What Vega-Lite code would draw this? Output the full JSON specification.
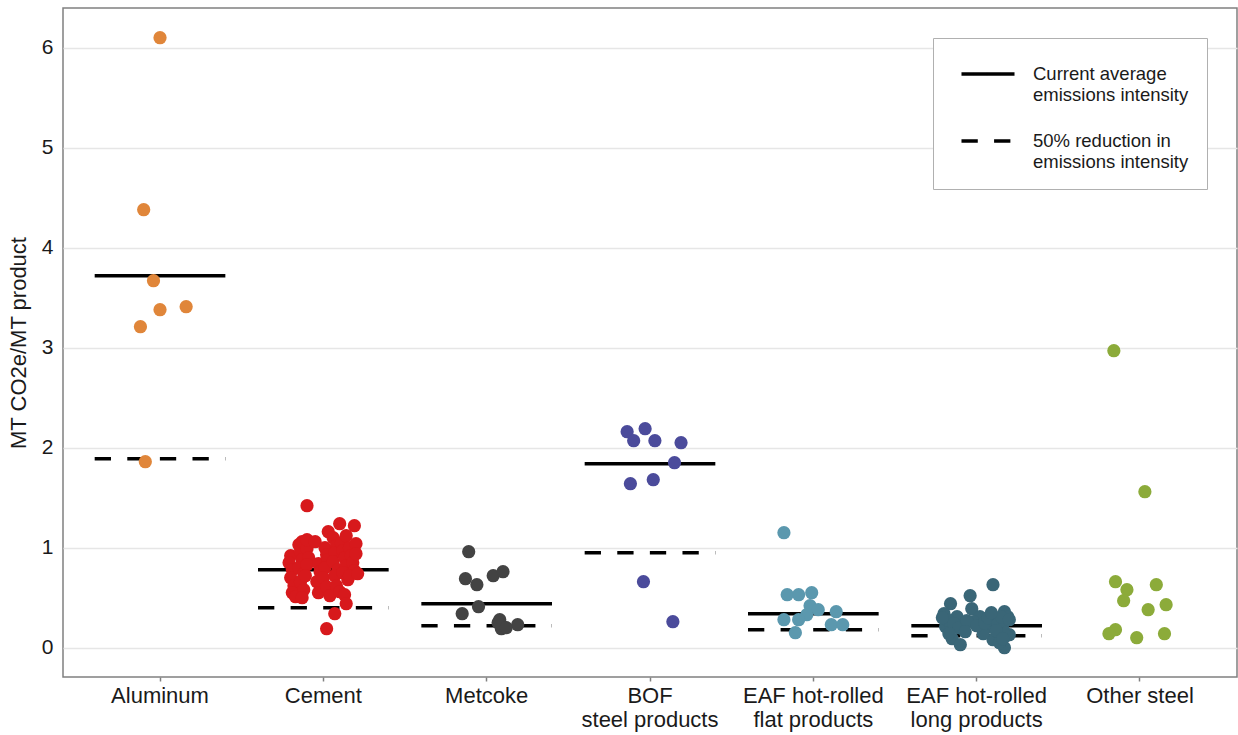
{
  "$schema": "https://vega.github.io/schema/vega-lite/v6.json",
  "width": 1174,
  "height": 669,
  "autosize": {"type": "none"},
  "padding": {"left": 63, "top": 8, "right": 1, "bottom": 58},
  "background": "white",
  "config": {
    "font": "Liberation Sans",
    "view": {"stroke": "#808080", "strokeWidth": 1.5},
    "axis": {"domain": false, "labelColor": "#1a1a1a", "titleColor": "#1a1a1a", "labelFontWeight": "normal", "titleFontWeight": "normal"}
  },
  "datasets": {
    "points": [
      {"sector": "Aluminum", "jitter": 0.0, "value": 6.10},
      {"sector": "Aluminum", "jitter": -0.10, "value": 4.38},
      {"sector": "Aluminum", "jitter": -0.04, "value": 3.67},
      {"sector": "Aluminum", "jitter": 0.0, "value": 3.38},
      {"sector": "Aluminum", "jitter": 0.16, "value": 3.41},
      {"sector": "Aluminum", "jitter": -0.12, "value": 3.21},
      {"sector": "Aluminum", "jitter": -0.09, "value": 1.86},
      {"sector": "Cement", "jitter": -0.20, "value": 0.92},
      {"sector": "Cement", "jitter": -0.21, "value": 0.85},
      {"sector": "Cement", "jitter": -0.19, "value": 0.78},
      {"sector": "Cement", "jitter": -0.20, "value": 0.70},
      {"sector": "Cement", "jitter": -0.18, "value": 0.62},
      {"sector": "Cement", "jitter": -0.19, "value": 0.55},
      {"sector": "Cement", "jitter": -0.17, "value": 0.51},
      {"sector": "Cement", "jitter": -0.15, "value": 1.03},
      {"sector": "Cement", "jitter": -0.14, "value": 0.96},
      {"sector": "Cement", "jitter": -0.13, "value": 0.88},
      {"sector": "Cement", "jitter": -0.15, "value": 0.80},
      {"sector": "Cement", "jitter": -0.12, "value": 0.74},
      {"sector": "Cement", "jitter": -0.14, "value": 0.66},
      {"sector": "Cement", "jitter": -0.12, "value": 0.58},
      {"sector": "Cement", "jitter": -0.13, "value": 1.06},
      {"sector": "Cement", "jitter": -0.10, "value": 0.99},
      {"sector": "Cement", "jitter": -0.09, "value": 0.90},
      {"sector": "Cement", "jitter": -0.10, "value": 0.83},
      {"sector": "Cement", "jitter": -0.11, "value": 0.72},
      {"sector": "Cement", "jitter": -0.13, "value": 0.50},
      {"sector": "Cement", "jitter": -0.10, "value": 1.08},
      {"sector": "Cement", "jitter": -0.10, "value": 1.42},
      {"sector": "Cement", "jitter": -0.05, "value": 1.06},
      {"sector": "Cement", "jitter": -0.03, "value": 0.84},
      {"sector": "Cement", "jitter": -0.02, "value": 0.76},
      {"sector": "Cement", "jitter": -0.04, "value": 0.66},
      {"sector": "Cement", "jitter": -0.03, "value": 0.55},
      {"sector": "Cement", "jitter": 0.01, "value": 1.00},
      {"sector": "Cement", "jitter": 0.02, "value": 0.93},
      {"sector": "Cement", "jitter": 0.03, "value": 0.88},
      {"sector": "Cement", "jitter": 0.01, "value": 0.80},
      {"sector": "Cement", "jitter": 0.00, "value": 0.70},
      {"sector": "Cement", "jitter": 0.02, "value": 0.61},
      {"sector": "Cement", "jitter": 0.04, "value": 0.52},
      {"sector": "Cement", "jitter": 0.03, "value": 1.16},
      {"sector": "Cement", "jitter": 0.06, "value": 1.10},
      {"sector": "Cement", "jitter": 0.08, "value": 1.02},
      {"sector": "Cement", "jitter": 0.07, "value": 0.95},
      {"sector": "Cement", "jitter": 0.06, "value": 0.86},
      {"sector": "Cement", "jitter": 0.09, "value": 0.78},
      {"sector": "Cement", "jitter": 0.07, "value": 0.72},
      {"sector": "Cement", "jitter": 0.08, "value": 0.62},
      {"sector": "Cement", "jitter": 0.10, "value": 0.56},
      {"sector": "Cement", "jitter": 0.10, "value": 1.24},
      {"sector": "Cement", "jitter": 0.11, "value": 1.05},
      {"sector": "Cement", "jitter": 0.12, "value": 0.97},
      {"sector": "Cement", "jitter": 0.13, "value": 0.90},
      {"sector": "Cement", "jitter": 0.14, "value": 0.82},
      {"sector": "Cement", "jitter": 0.12, "value": 0.75},
      {"sector": "Cement", "jitter": 0.15, "value": 0.68},
      {"sector": "Cement", "jitter": 0.14, "value": 1.12},
      {"sector": "Cement", "jitter": 0.16, "value": 1.00},
      {"sector": "Cement", "jitter": 0.17, "value": 0.92},
      {"sector": "Cement", "jitter": 0.18, "value": 0.85},
      {"sector": "Cement", "jitter": 0.19, "value": 0.77},
      {"sector": "Cement", "jitter": 0.16, "value": 0.72},
      {"sector": "Cement", "jitter": 0.20, "value": 1.04},
      {"sector": "Cement", "jitter": 0.21, "value": 0.74},
      {"sector": "Cement", "jitter": 0.19, "value": 1.22},
      {"sector": "Cement", "jitter": 0.20, "value": 0.94},
      {"sector": "Cement", "jitter": 0.13, "value": 0.53},
      {"sector": "Cement", "jitter": 0.14, "value": 0.44},
      {"sector": "Cement", "jitter": 0.07, "value": 0.34},
      {"sector": "Cement", "jitter": 0.02, "value": 0.19},
      {"sector": "Metcoke", "jitter": -0.11, "value": 0.96},
      {"sector": "Metcoke", "jitter": -0.13, "value": 0.69},
      {"sector": "Metcoke", "jitter": -0.06, "value": 0.63},
      {"sector": "Metcoke", "jitter": 0.04, "value": 0.72},
      {"sector": "Metcoke", "jitter": 0.10, "value": 0.76},
      {"sector": "Metcoke", "jitter": -0.05, "value": 0.41},
      {"sector": "Metcoke", "jitter": -0.15, "value": 0.34},
      {"sector": "Metcoke", "jitter": 0.08, "value": 0.28},
      {"sector": "Metcoke", "jitter": 0.09, "value": 0.22},
      {"sector": "Metcoke", "jitter": 0.09, "value": 0.19},
      {"sector": "Metcoke", "jitter": 0.19, "value": 0.23},
      {"sector": "Metcoke", "jitter": 0.07, "value": 0.25},
      {"sector": "Metcoke", "jitter": 0.12, "value": 0.20},
      {"sector": "BOF steel products", "jitter": -0.14, "value": 2.16},
      {"sector": "BOF steel products", "jitter": -0.03, "value": 2.19},
      {"sector": "BOF steel products", "jitter": -0.10, "value": 2.07},
      {"sector": "BOF steel products", "jitter": 0.03, "value": 2.07},
      {"sector": "BOF steel products", "jitter": 0.19, "value": 2.05},
      {"sector": "BOF steel products", "jitter": 0.15, "value": 1.85},
      {"sector": "BOF steel products", "jitter": -0.12, "value": 1.64},
      {"sector": "BOF steel products", "jitter": 0.02, "value": 1.68},
      {"sector": "BOF steel products", "jitter": -0.04, "value": 0.66},
      {"sector": "BOF steel products", "jitter": 0.14, "value": 0.26},
      {"sector": "EAF hot-rolled flat products", "jitter": -0.18, "value": 1.15},
      {"sector": "EAF hot-rolled flat products", "jitter": -0.16, "value": 0.53},
      {"sector": "EAF hot-rolled flat products", "jitter": -0.09, "value": 0.53},
      {"sector": "EAF hot-rolled flat products", "jitter": -0.01, "value": 0.55},
      {"sector": "EAF hot-rolled flat products", "jitter": -0.02, "value": 0.42},
      {"sector": "EAF hot-rolled flat products", "jitter": 0.03, "value": 0.38},
      {"sector": "EAF hot-rolled flat products", "jitter": -0.04, "value": 0.33},
      {"sector": "EAF hot-rolled flat products", "jitter": -0.09, "value": 0.28},
      {"sector": "EAF hot-rolled flat products", "jitter": -0.18, "value": 0.28},
      {"sector": "EAF hot-rolled flat products", "jitter": 0.14, "value": 0.36},
      {"sector": "EAF hot-rolled flat products", "jitter": 0.11, "value": 0.23},
      {"sector": "EAF hot-rolled flat products", "jitter": 0.18, "value": 0.23},
      {"sector": "EAF hot-rolled flat products", "jitter": -0.11, "value": 0.15},
      {"sector": "EAF hot-rolled long products", "jitter": 0.10, "value": 0.63},
      {"sector": "EAF hot-rolled long products", "jitter": -0.04, "value": 0.52},
      {"sector": "EAF hot-rolled long products", "jitter": -0.16, "value": 0.44},
      {"sector": "EAF hot-rolled long products", "jitter": -0.03, "value": 0.39},
      {"sector": "EAF hot-rolled long products", "jitter": 0.17, "value": 0.36},
      {"sector": "EAF hot-rolled long products", "jitter": -0.20, "value": 0.34},
      {"sector": "EAF hot-rolled long products", "jitter": -0.12, "value": 0.31},
      {"sector": "EAF hot-rolled long products", "jitter": 0.02, "value": 0.31},
      {"sector": "EAF hot-rolled long products", "jitter": 0.11, "value": 0.29},
      {"sector": "EAF hot-rolled long products", "jitter": 0.19, "value": 0.31},
      {"sector": "EAF hot-rolled long products", "jitter": -0.19, "value": 0.21},
      {"sector": "EAF hot-rolled long products", "jitter": -0.08, "value": 0.23},
      {"sector": "EAF hot-rolled long products", "jitter": 0.08, "value": 0.21},
      {"sector": "EAF hot-rolled long products", "jitter": 0.16, "value": 0.19},
      {"sector": "EAF hot-rolled long products", "jitter": -0.15, "value": 0.09},
      {"sector": "EAF hot-rolled long products", "jitter": -0.10, "value": 0.03},
      {"sector": "EAF hot-rolled long products", "jitter": 0.10, "value": 0.08},
      {"sector": "EAF hot-rolled long products", "jitter": 0.17, "value": 0.00},
      {"sector": "EAF hot-rolled long products", "jitter": 0.20, "value": 0.13},
      {"sector": "EAF hot-rolled long products", "jitter": -0.02, "value": 0.26},
      {"sector": "EAF hot-rolled long products", "jitter": 0.04, "value": 0.14},
      {"sector": "EAF hot-rolled long products", "jitter": -0.18, "value": 0.28},
      {"sector": "EAF hot-rolled long products", "jitter": -0.14, "value": 0.24},
      {"sector": "EAF hot-rolled long products", "jitter": -0.11, "value": 0.20},
      {"sector": "EAF hot-rolled long products", "jitter": -0.06, "value": 0.27},
      {"sector": "EAF hot-rolled long products", "jitter": 0.00, "value": 0.22},
      {"sector": "EAF hot-rolled long products", "jitter": 0.05, "value": 0.25},
      {"sector": "EAF hot-rolled long products", "jitter": 0.07, "value": 0.30},
      {"sector": "EAF hot-rolled long products", "jitter": 0.13, "value": 0.24},
      {"sector": "EAF hot-rolled long products", "jitter": 0.15, "value": 0.31},
      {"sector": "EAF hot-rolled long products", "jitter": 0.18, "value": 0.12},
      {"sector": "EAF hot-rolled long products", "jitter": 0.14, "value": 0.05},
      {"sector": "EAF hot-rolled long products", "jitter": 0.12, "value": 0.17},
      {"sector": "EAF hot-rolled long products", "jitter": -0.17, "value": 0.14},
      {"sector": "EAF hot-rolled long products", "jitter": -0.07, "value": 0.16},
      {"sector": "EAF hot-rolled long products", "jitter": 0.09, "value": 0.35},
      {"sector": "EAF hot-rolled long products", "jitter": -0.21, "value": 0.30},
      {"sector": "EAF hot-rolled long products", "jitter": 0.20, "value": 0.28},
      {"sector": "EAF hot-rolled long products", "jitter": 0.16, "value": 0.09},
      {"sector": "Other steel", "jitter": -0.16, "value": 2.97},
      {"sector": "Other steel", "jitter": 0.03, "value": 1.56},
      {"sector": "Other steel", "jitter": -0.15, "value": 0.66},
      {"sector": "Other steel", "jitter": -0.08, "value": 0.58},
      {"sector": "Other steel", "jitter": -0.10, "value": 0.47},
      {"sector": "Other steel", "jitter": 0.10, "value": 0.63},
      {"sector": "Other steel", "jitter": 0.16, "value": 0.43},
      {"sector": "Other steel", "jitter": 0.05, "value": 0.38},
      {"sector": "Other steel", "jitter": -0.15, "value": 0.18},
      {"sector": "Other steel", "jitter": -0.19, "value": 0.14},
      {"sector": "Other steel", "jitter": -0.02, "value": 0.10},
      {"sector": "Other steel", "jitter": 0.15, "value": 0.14}
    ],
    "lines": [
      {"sector": "Aluminum", "measure": "Current average emissions intensity", "value": 3.72},
      {"sector": "Aluminum", "measure": "50% reduction in emissions intensity", "value": 1.89},
      {"sector": "Cement", "measure": "Current average emissions intensity", "value": 0.78},
      {"sector": "Cement", "measure": "50% reduction in emissions intensity", "value": 0.40},
      {"sector": "Metcoke", "measure": "Current average emissions intensity", "value": 0.44},
      {"sector": "Metcoke", "measure": "50% reduction in emissions intensity", "value": 0.22},
      {"sector": "BOF steel products", "measure": "Current average emissions intensity", "value": 1.84},
      {"sector": "BOF steel products", "measure": "50% reduction in emissions intensity", "value": 0.95},
      {"sector": "EAF hot-rolled flat products", "measure": "Current average emissions intensity", "value": 0.34},
      {"sector": "EAF hot-rolled flat products", "measure": "50% reduction in emissions intensity", "value": 0.18},
      {"sector": "EAF hot-rolled long products", "measure": "Current average emissions intensity", "value": 0.22},
      {"sector": "EAF hot-rolled long products", "measure": "50% reduction in emissions intensity", "value": 0.12}
    ]
  },
  "encoding": {
    "x": {
      "field": "sector",
      "type": "nominal",
      "sort": ["Aluminum", "Cement", "Metcoke", "BOF steel products", "EAF hot-rolled flat products", "EAF hot-rolled long products", "Other steel"],
      "scale": {
        "domain": ["Aluminum", "Cement", "Metcoke", "BOF steel products", "EAF hot-rolled flat products", "EAF hot-rolled long products", "Other steel"],
        "paddingInner": 0,
        "paddingOuter": 0.094
      },
      "axis": {
        "title": null,
        "labelAngle": 0,
        "labelFontSize": 22,
        "labelLineHeight": 24,
        "labelPadding": 4,
        "ticks": true,
        "tickSize": 4,
        "tickColor": "#808080",
        "tickWidth": 1.5,
        "grid": false,
        "labelLimit": 300,
        "labelExpr": "datum.value == 'BOF steel products' ? ['BOF', 'steel products'] : datum.value == 'EAF hot-rolled flat products' ? ['EAF hot-rolled', 'flat products'] : datum.value == 'EAF hot-rolled long products' ? ['EAF hot-rolled', 'long products'] : datum.value"
      }
    },
    "y": {
      "field": "value",
      "type": "quantitative",
      "scale": {"domain": [-0.293, 6.397], "nice": false, "zero": false},
      "axis": {
        "title": "MT CO2e/MT product",
        "titleFontSize": 22,
        "titlePadding": 11,
        "values": [0, 1, 2, 3, 4, 5, 6],
        "labelFontSize": 21,
        "labelPadding": 10,
        "ticks": false,
        "grid": true,
        "gridColor": "#e6e6e6",
        "gridWidth": 1.5
      }
    }
  },
  "layer": [
    {
      "data": {"name": "lines"},
      "mark": {"type": "rule", "color": "black", "strokeWidth": 3.5, "strokeCap": "butt"},
      "encoding": {
        "x": {"field": "sector", "type": "nominal", "bandPosition": 0.1},
        "x2": {"field": "sector", "bandPosition": 0.9},
        "strokeDash": {
          "field": "measure",
          "type": "nominal",
          "scale": {
            "domain": ["Current average emissions intensity", "50% reduction in emissions intensity"],
            "range": [[1, 0], [16.3, 16.3]]
          },
          "legend": {
            "title": null,
            "orient": "top-right",
            "offset": 30,
            "padding": 18,
            "strokeColor": "#b0b0b0",
            "fillColor": "white",
            "symbolType": "M-1.677,0H1.677",
            "symbolSize": 1000,
            "symbolOffset": 19,
            "symbolStrokeWidth": 3.5,
            "symbolStrokeColor": "black",
            "symbolFillColor": "transparent",
            "labelFontSize": 18.5,
            "labelLineHeight": 20.5,
            "labelColor": "#1a1a1a",
            "labelOffset": 27,
            "labelLimit": 400,
            "rowPadding": 19,
            "labelExpr": "datum.label == 'Current average emissions intensity' ? ['Current average', 'emissions intensity'] : ['50% reduction in', 'emissions intensity']"
          }
        }
      }
    },
    {
      "data": {"name": "points"},
      "mark": {"type": "circle", "size": 175, "opacity": 1},
      "encoding": {
        "xOffset": {"field": "jitter", "type": "quantitative", "scale": {"domain": [-0.5, 0.5]}},
        "color": {
          "field": "sector",
          "type": "nominal",
          "scale": {
            "domain": ["Aluminum", "Cement", "Metcoke", "BOF steel products", "EAF hot-rolled flat products", "EAF hot-rolled long products", "Other steel"],
            "range": ["#E0863A", "#D7191C", "#434343", "#4B4B9B", "#5B98AE", "#3A6677", "#8CAB3A"]
          },
          "legend": null
        }
      }
    }
  ]
}
